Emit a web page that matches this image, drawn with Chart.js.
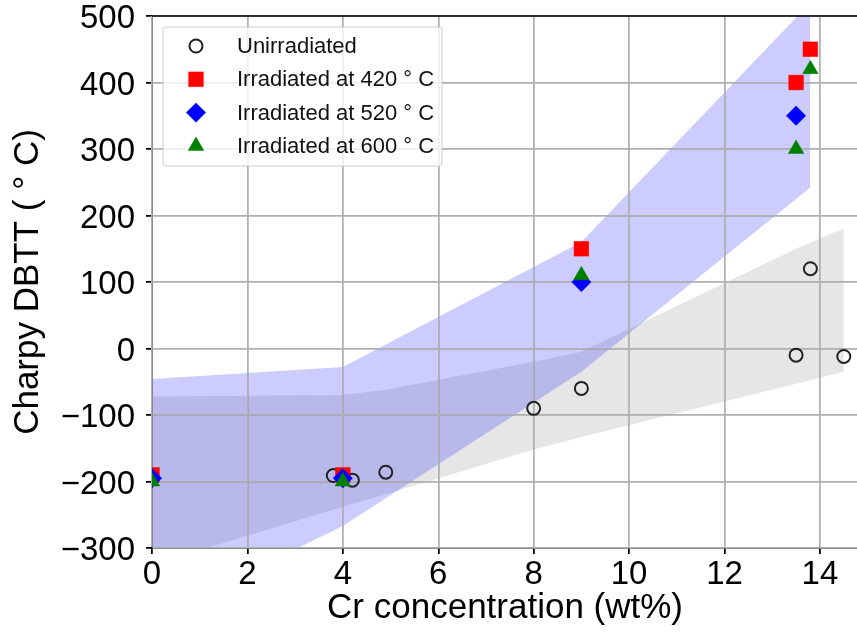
<!DOCTYPE html>
<html>
<head>
<meta charset="utf-8">
<script src="https://cdn.jsdelivr.net/npm/chart.js@4.4.1/dist/chart.umd.min.js"></script>
<style>
  html, body { margin: 0; padding: 0; background: #fff; overflow: hidden; }
  #wrap { width: 857px; height: 637px; overflow: hidden; }
</style>
</head>
<body>
<div id="wrap"><canvas id="dbtt" width="869" height="637"></canvas></div>
<script>
// measured points
const crUnirr = [3.8, 4.2, 4.9, 8, 9, 13.5, 13.8, 14.5];
const dbttUnirr = [-191, -198, -186, -90, -60, -10, 120, -12];
const cr420 = [0, 4, 9, 13.5, 13.8];
const dbtt420 = [-190, -190, 150, 400, 450];
const cr520 = [0, 4, 9, 13.5];
const dbtt520 = [-195, -195, 100, 350];
const cr600 = [0, 4, 9, 13.5, 13.8];
const dbtt600 = [-200, -200, 110, 300, 420];

// shaded bands
const bandIrrCr = [0, 4, 9, 13.8];
const bandIrrUpper = [-46, -28, 160, 520];
const bandIrrLower = [-407, -267, -35, 242];
const bandUnirrCr = [0, 4, 4.9, 8, 9, 13.5, 14.5];
const bandUnirrUpper = [-72, -70, -62, -20, -5, 150, 181];
const bandUnirrLower = [-325, -238, -219, -152, -133, -53, -35];

const xTicks = [0, 2, 4, 6, 8, 10, 12, 14];
const yTicks = [-300, -200, -100, 0, 100, 200, 300, 400, 500];

const pts = (xs, ys) => xs.map((x, i) => ({ x: x, y: ys[i] }));
const FONT = "'Liberation Sans', Arial, Helvetica, sans-serif";

const band = (xs, ys, color, fill, order) => ({
  data: pts(xs, ys),
  showLine: true,
  borderWidth: 0,
  borderColor: "rgba(0,0,0,0)",
  backgroundColor: color,
  pointRadius: 0,
  pointHoverRadius: 0,
  fill: fill,
  order: order,
});

const marker = (label, xs, ys, style, r, fillC, edgeC, bw, order) => ({
  label: label,
  data: pts(xs, ys),
  showLine: false,
  pointStyle: style,
  pointRadius: r,
  pointHoverRadius: r,
  backgroundColor: fillC,
  borderColor: edgeC,
  pointBorderWidth: bw,
  borderWidth: bw,
  clip: 0,
  order: order,
});

const datasets = [
  band(bandUnirrCr, bandUnirrUpper, "rgba(128,128,128,0.2)", "+1", 20),
  band(bandUnirrCr, bandUnirrLower, "rgba(0,0,0,0)", false, 21),
  band(bandIrrCr, bandIrrUpper, "rgba(0,0,255,0.2)", "+1", 18),
  band(bandIrrCr, bandIrrLower, "rgba(0,0,0,0)", false, 19),
  marker("Unirradiated", crUnirr, dbttUnirr, "circle", 6.5, "rgba(0,0,0,0)", "#222", 2, 4),
  marker("Irradiated at 420 \u00b0 C", cr420, dbtt420, "rect", 10.4, "#ff0000", "#ff0000", 0.5, 3),
  marker("Irradiated at 520 \u00b0 C", cr520, dbtt520, "rectRot", 9.7, "#0000ff", "#0000ff", 0.5, 2),
  marker("Irradiated at 600 \u00b0 C", cr600, dbtt600, "triangle", 9, "#008000", "#008000", 0.5, 1),
];

// grid on top of the shaded bands, below the markers
const gridOverBands = {
  id: "gridOverBands",
  afterDatasetDraw(chart, args) {
    if (args.index !== 2) return;
    ["x", "y"].forEach((k) => {
      const s = chart.scales[k];
      if (s && typeof s.drawGrid === "function") s.drawGrid(chart.chartArea);
    });
  },
};

const frameAndLegend = {
  id: "frameAndLegend",
  afterDraw(chart) {
    const ctx = chart.ctx;
    const a = chart.chartArea;
    ctx.save();
    ctx.strokeStyle = "#000";
    ctx.lineWidth = 1.5;
    ctx.beginPath();
    ctx.moveTo(a.left, a.top);
    ctx.lineTo(a.right, a.top);
    ctx.stroke();

    // legend box
    const bx = a.left + 11, by = a.top + 11, bw = 279, bh = 139;
    ctx.beginPath();
    ctx.roundRect(bx, by, bw, bh, 3);
    ctx.fillStyle = "rgba(255,255,255,0.8)";
    ctx.fill();
    ctx.strokeStyle = "#cccccc";
    ctx.lineWidth = 1;
    ctx.stroke();

    ctx.font = "22px " + FONT;
    ctx.textBaseline = "middle";
    ctx.textAlign = "left";
    const items = chart.data.datasets.filter((d) => d.label);
    items.forEach((d, i) => {
      const cy = by + 19 + i * 33.3;
      ctx.fillStyle = d.backgroundColor;
      ctx.strokeStyle = d.borderColor;
      ctx.lineWidth = d.pointBorderWidth;
      Chart.helpers.drawPoint(ctx, { pointStyle: d.pointStyle, radius: d.pointRadius, borderWidth: d.pointBorderWidth, rotation: 0 }, bx + 33, cy);
      ctx.fillStyle = "#111";
      ctx.fillText(d.label, bx + 74, cy + 1);
    });
    ctx.restore();
  },
};

new Chart(document.getElementById("dbtt").getContext("2d"), {
  type: "scatter",
  data: { datasets: datasets },
  options: {
    responsive: false,
    animation: false,
    events: [],
    layout: { padding: { top: 16, right: 0, left: 0, bottom: 0 } },
    plugins: {
      legend: { display: false },
      tooltip: { enabled: false },
    },
    scales: {
      x: {
        type: "linear",
        min: 0,
        max: 14.8,
        afterFit: (s) => {
          s.height = 89;
          s.paddingLeft = 0;
          s.paddingRight = 0;
        },
        afterBuildTicks: (s) => { s.ticks = xTicks.map((v) => ({ value: v })); },
        ticks: {
          font: { family: FONT, size: 33 },
          color: "#000",
          padding: 1,
          includeBounds: false,
          callback: (v) => String(v),
        },
        grid: { color: "#b0b0b0", lineWidth: 1.5, tickLength: 6, tickColor: "#000", tickWidth: 1.5 },
        border: { color: "#000", width: 1.5 },
        title: {
          display: true,
          text: "Cr concentration (wt%)",
          font: { family: FONT, size: 35 },
          color: "#000",
          padding: { top: 0, bottom: 8 },
        },
      },
      y: {
        type: "linear",
        min: -300,
        max: 500,
        afterFit: (s) => {
          s.width = 152;
          s.paddingTop = 0;
          s.paddingBottom = 0;
        },
        afterBuildTicks: (s) => { s.ticks = yTicks.map((v) => ({ value: v })); },
        ticks: {
          font: { family: FONT, size: 33 },
          color: "#000",
          padding: 11,
          labelOffset: 3,
          callback: (v) => (v < 0 ? "\u2212" + Math.abs(v) : String(v)),
        },
        grid: { color: "#b0b0b0", lineWidth: 1.5, tickLength: 6, tickColor: "#000", tickWidth: 1.5 },
        border: { color: "#000", width: 1.5 },
        title: {
          display: true,
          text: "Charpy DBTT ( \u00b0 C)",
          font: { family: FONT, size: 35 },
          color: "#000",
          padding: { top: 7, bottom: 0 },
        },
      },
    },
  },
  plugins: [gridOverBands, frameAndLegend],
});
</script>
</body>
</html>
